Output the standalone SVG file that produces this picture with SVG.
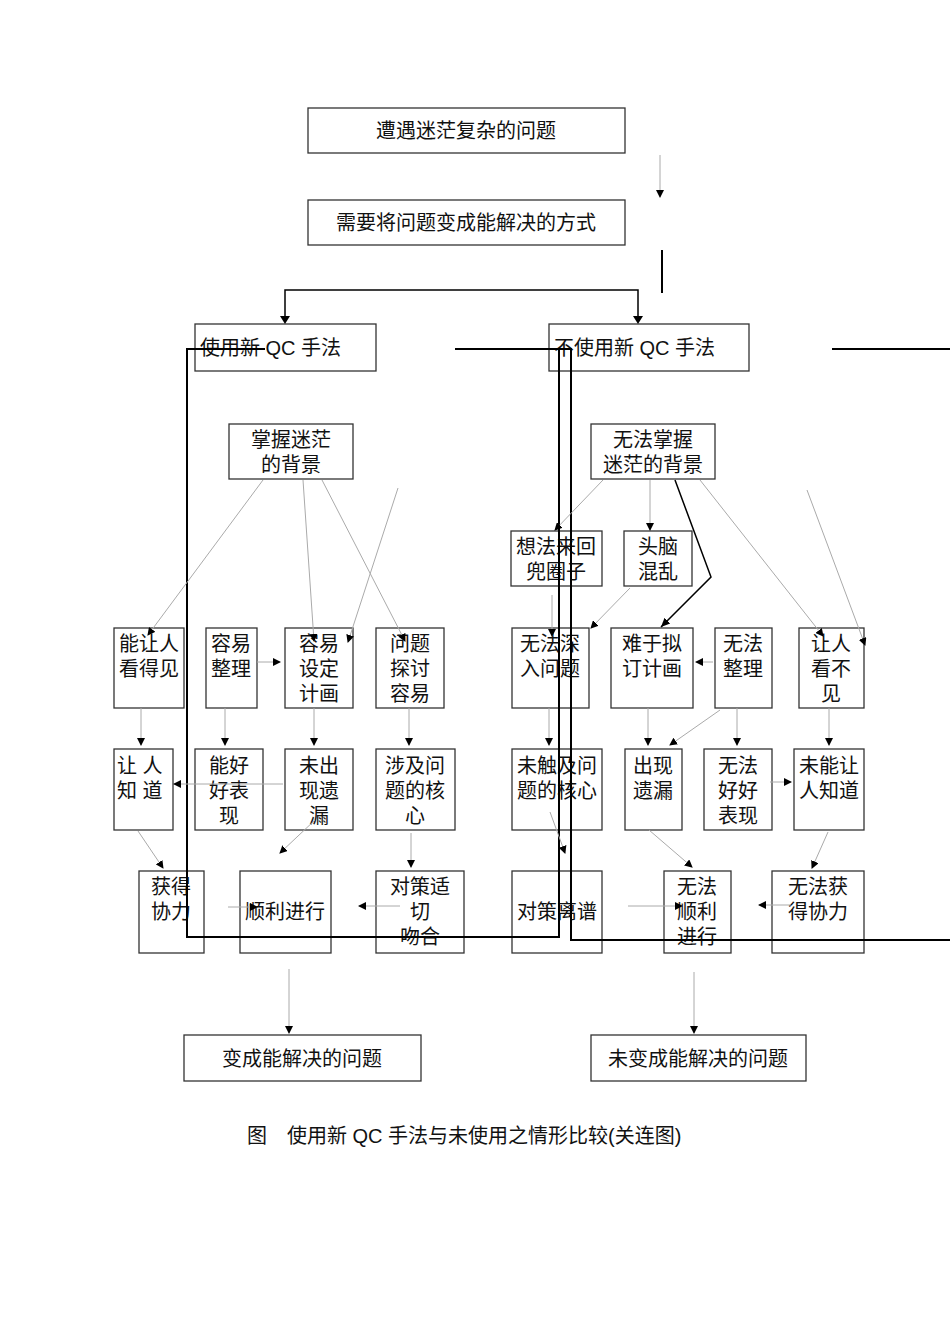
<svg xmlns="http://www.w3.org/2000/svg" width="950" height="1344" viewBox="0 0 950 1344">
<style>
.b{fill:#fff;stroke:#333;stroke-width:1.3}
text{font-family:"Liberation Sans","Noto Sans CJK SC",sans-serif;font-size:20px;fill:#111}
.c{text-anchor:middle}
.t{stroke:#aaa;stroke-width:1;fill:none;marker-end:url(#a)}
.k{stroke:#000;stroke-width:2;fill:none}
</style>
<defs><marker id="a" markerWidth="8" markerHeight="8" refX="7" refY="4" orient="auto" markerUnits="userSpaceOnUse"><path d="M0,0 L8,4 L0,8z" fill="#000"/></marker>
<marker id="a2" markerWidth="10" markerHeight="10" refX="9" refY="5" orient="auto" markerUnits="userSpaceOnUse"><path d="M0,1 L9,5 L0,9z" fill="#000"/></marker></defs>
<rect width="950" height="1344" fill="#fff"/>
<g id="n1"><rect class="b" x="308" y="108" width="317" height="45"/><text class="c" x="466" y="138">遭遇迷茫复杂的问题</text></g>
<g id="n2"><rect class="b" x="308" y="200" width="317" height="45"/><text class="c" x="466" y="230">需要将问题变成能解决的方式</text></g>
<g id="n3"><rect class="b" x="195" y="324" width="181" height="47"/><text x="200" y="355">使用新 QC 手法</text></g>
<g id="n4"><rect class="b" x="549" y="324" width="200" height="47"/><text x="554" y="355">不使用新 QC 手法</text></g>
<g id="n5"><rect class="b" x="229" y="424" width="124" height="55"/><text class="c" x="291" y="447">掌握迷茫</text><text class="c" x="291" y="472">的背景</text></g>
<g id="n6"><rect class="b" x="114" y="628" width="70" height="80"/><text class="c" x="149" y="651">能让人</text><text class="c" x="149" y="676">看得见</text></g>
<g id="n7"><rect class="b" x="206" y="628" width="51" height="80"/><text class="c" x="231" y="651">容易</text><text class="c" x="231" y="676">整理</text></g>
<g id="n8"><rect class="b" x="285" y="628" width="68" height="80"/><text class="c" x="319" y="651">容易</text><text class="c" x="319" y="676">设定</text><text class="c" x="319" y="701">计画</text></g>
<g id="n9"><rect class="b" x="376" y="628" width="68" height="80"/><text class="c" x="410" y="651">问题</text><text class="c" x="410" y="676">探讨</text><text class="c" x="410" y="701">容易</text></g>
<g id="n10"><rect class="b" x="114" y="749" width="59" height="81"/><text x="117" y="773">让 人</text><text x="117" y="798">知 道</text></g>
<g id="n11"><rect class="b" x="195" y="749" width="68" height="81"/><text class="c" x="229" y="773">能好</text><text class="c" x="229" y="798">好表</text><text class="c" x="229" y="823">现</text></g>
<g id="n12"><rect class="b" x="285" y="749" width="68" height="81"/><text class="c" x="319" y="773">未出</text><text class="c" x="319" y="798">现遗</text><text class="c" x="319" y="823">漏</text></g>
<g id="n13"><rect class="b" x="376" y="749" width="79" height="81"/><text class="c" x="415" y="773">涉及问</text><text class="c" x="415" y="798">题的核</text><text class="c" x="415" y="823">心</text></g>
<g id="n14"><rect class="b" x="139" y="871" width="65" height="82"/><text class="c" x="171" y="894">获得</text><text class="c" x="171" y="919">协力</text></g>
<g id="n15"><rect class="b" x="240" y="871" width="91" height="82"/><text class="c" x="285" y="919">顺利进行</text></g>
<g id="n16"><rect class="b" x="376" y="871" width="88" height="82"/><text class="c" x="420" y="894">对策适</text><text class="c" x="420" y="919">切</text><text class="c" x="420" y="944">吻合</text></g>
<g id="n17"><rect class="b" x="184" y="1035" width="237" height="46"/><text class="c" x="302" y="1066">变成能解决的问题</text></g>
<g id="n18"><rect class="b" x="591" y="424" width="124" height="55"/><text class="c" x="653" y="447">无法掌握</text><text class="c" x="653" y="472">迷茫的背景</text></g>
<g id="n19"><rect class="b" x="511" y="531" width="91" height="55"/><text class="c" x="556" y="554">想法来回</text><text class="c" x="556" y="579">兜圈子</text></g>
<g id="n20"><rect class="b" x="624" y="531" width="68" height="55"/><text class="c" x="658" y="554">头脑</text><text class="c" x="658" y="579">混乱</text></g>
<g id="n21"><rect class="b" x="512" y="628" width="77" height="80"/><text class="c" x="550" y="651">无法深</text><text class="c" x="550" y="676">入问题</text></g>
<g id="n22"><rect class="b" x="611" y="628" width="82" height="80"/><text class="c" x="652" y="651">难于拟</text><text class="c" x="652" y="676">订计画</text></g>
<g id="n23"><rect class="b" x="715" y="628" width="57" height="80"/><text class="c" x="743" y="651">无法</text><text class="c" x="743" y="676">整理</text></g>
<g id="n24"><rect class="b" x="799" y="628" width="65" height="80"/><text class="c" x="831" y="651">让人</text><text class="c" x="831" y="676">看不</text><text class="c" x="831" y="701">见</text></g>
<g id="n25"><rect class="b" x="512" y="749" width="90" height="81"/><text class="c" x="557" y="773">未触及问</text><text class="c" x="557" y="798">题的核心</text></g>
<g id="n26"><rect class="b" x="625" y="749" width="57" height="81"/><text class="c" x="653" y="773">出现</text><text class="c" x="653" y="798">遗漏</text></g>
<g id="n27"><rect class="b" x="704" y="749" width="68" height="81"/><text class="c" x="738" y="773">无法</text><text class="c" x="738" y="798">好好</text><text class="c" x="738" y="823">表现</text></g>
<g id="n28"><rect class="b" x="794" y="749" width="70" height="81"/><text class="c" x="829" y="773">未能让</text><text class="c" x="829" y="798">人知道</text></g>
<g id="n29"><rect class="b" x="512" y="871" width="90" height="82"/><text class="c" x="557" y="919">对策离谱</text></g>
<g id="n30"><rect class="b" x="664" y="871" width="67" height="82"/><text class="c" x="697" y="894">无法</text><text class="c" x="697" y="919">顺利</text><text class="c" x="697" y="944">进行</text></g>
<g id="n31"><rect class="b" x="772" y="871" width="92" height="82"/><text class="c" x="818" y="894">无法获</text><text class="c" x="818" y="919">得协力</text></g>
<g id="n32"><rect class="b" x="591" y="1035" width="215" height="46"/><text class="c" x="698" y="1066">未变成能解决的问题</text></g>
<text x="247" y="1143">图　使用新 QC 手法与未使用之情形比较(关连图)</text>
<g id="connectors">
<path class="t" d="M660,155V197"/>
<path stroke="#000" stroke-width="2" d="M662,250V293"/>
<path stroke="#000" stroke-width="1.5" fill="none" d="M285,322V290H638V322"/>
<path d="M280,316l5,8l5,-8zM633,316l5,8l5,-8z"/>
<path class="k" d="M265,349H187V937H559V349"/>
<path class="k" d="M455,349H571V940H950"/>
<path class="k" d="M832,349H950"/>
<path class="t" d="M263,480L148,635"/>
<path class="t" d="M303,480L314,641"/>
<path class="t" d="M322,480L405,641"/>
<path class="t" d="M398,488L348,642"/>
<path class="t" d="M257,662H280"/>
<path class="t" d="M141,708V745"/>
<path class="t" d="M225,708V745"/>
<path class="t" d="M314,708V745"/>
<path class="t" d="M409,708V745"/>
<path class="t" d="M283,784H174"/>
<path class="t" d="M138,831L163,868"/>
<path class="t" d="M315,820L280,853"/>
<path class="t" d="M411,833V867"/>
<path class="t" d="M400,906H359"/>
<path class="t" d="M228,907H257"/>
<path class="t" d="M289,969V1033"/>
<path class="t" d="M603,480L555,530"/>
<path class="t" d="M650,480V530"/>
<path stroke="#000" stroke-width="1.5" fill="none" marker-end="url(#a2)" d="M675,480L711,577L661,627"/>
<path class="t" d="M700,480L823,636"/>
<path class="t" d="M807,490L865,645"/>
<path class="t" d="M552,595V636"/>
<path class="t" d="M630,588L591,628"/>
<path class="t" d="M713,662H696"/>
<path class="t" d="M549,708V745"/>
<path class="t" d="M648,708V745"/>
<path class="t" d="M720,710L670,745"/>
<path class="t" d="M737,708V745"/>
<path class="t" d="M829,708V745"/>
<path class="t" d="M770,782H791"/>
<path class="t" d="M550,812L565,853"/>
<path class="t" d="M649,830L692,867"/>
<path class="t" d="M828,832L812,868"/>
<path class="t" d="M791,905H759"/>
<path class="t" d="M628,906H682"/>
<path class="t" d="M694,972V1033"/>
</g>
</svg>
